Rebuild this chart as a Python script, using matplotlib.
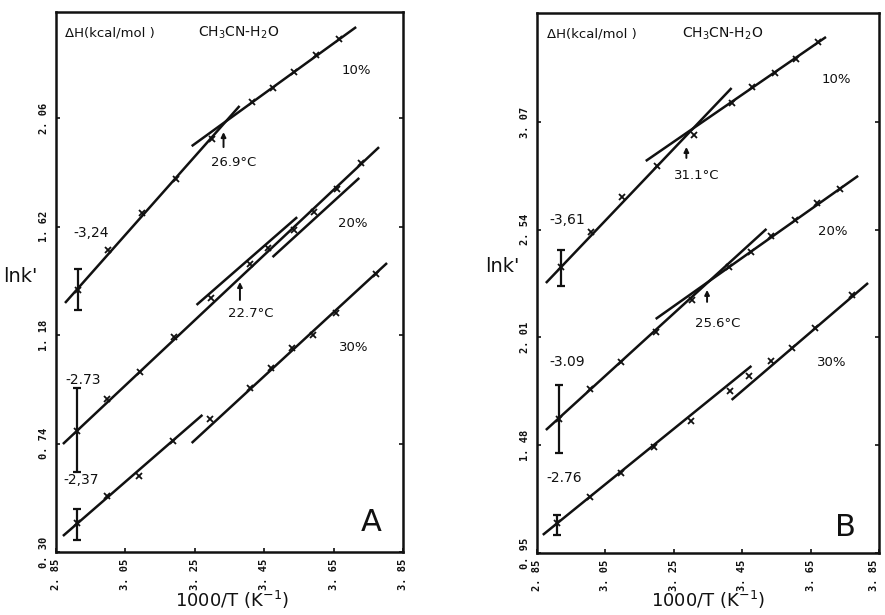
import matplotlib
matplotlib.use("Agg")
import matplotlib.pyplot as plt

# ---- tick values -------------------------------------------------------
x_ticks = [2.85, 3.05, 3.25, 3.45, 3.65, 3.85]
x_tick_labels = ["2. 85", "3. 05", "3. 25", "3. 45", "3. 65", "3. 85"]
a_y_ticks = [0.30, 0.74, 1.18, 1.62, 2.06]
a_y_tick_labels = ["0. 30", "0. 74", "1. 18", "1. 62", "2. 06"]
b_y_ticks = [0.95, 1.48, 2.01, 2.54, 3.07]
b_y_tick_labels = ["0. 95", "1. 48", "2. 01", "2. 54", "3. 07"]

series_names = ["10%", "20%", "30%"]

# ---- panel A: measured ln k' vs 1000/T --------------------------------
a_x_10 = [2.913, 3.000, 3.097, 3.195, 3.301, 3.416, 3.474, 3.537, 3.600, 3.666]
a_y_10 = [1.362, 1.525, 1.675, 1.813, 1.975, 2.125, 2.181, 2.246, 2.315, 2.380]
a_x_20 = [2.910, 2.997, 3.091, 3.189, 3.298, 3.410, 3.462, 3.537, 3.594, 3.660, 3.729]
a_y_20 = [0.791, 0.920, 1.030, 1.172, 1.330, 1.468, 1.533, 1.606, 1.679, 1.772, 1.877]
a_x_30 = [2.910, 2.997, 3.089, 3.186, 3.295, 3.410, 3.471, 3.531, 3.591, 3.657, 3.772]
a_y_30 = [0.418, 0.527, 0.608, 0.750, 0.839, 0.965, 1.046, 1.127, 1.180, 1.269, 1.427]

# fitted straight-line segments (x pairs, y pairs)
a_fit_x_10 = [[2.876, 3.379], [3.241, 3.715]]
a_fit_y_10 = [[1.310, 2.109], [1.946, 2.429]]
a_fit_x_20 = [[2.870, 3.781], [3.255, 3.545], [3.474, 3.724]]
a_fit_y_20 = [[0.738, 1.942], [1.302, 1.658], [1.496, 1.817]]
a_fit_x_30 = [[2.870, 3.272], [3.241, 3.804]]
a_fit_y_30 = [[0.365, 0.856], [0.742, 1.472]]

# error ranges at the highest temperature
a_err_low = [1.281, 0.624, 0.349]
a_err_high = [1.448, 0.965, 0.474]

a_dH = ["-3,24", "-2.73", "-2,37"]
a_transition_C = [26.9, 22.7]

# ---- panel B -----------------------------------------------------------
b_x_10 = [2.920, 3.007, 3.098, 3.200, 3.308, 3.419, 3.480, 3.547, 3.608, 3.672]
b_y_10 = [2.357, 2.529, 2.701, 2.854, 3.006, 3.164, 3.242, 3.311, 3.380, 3.464]
b_x_20 = [2.914, 3.005, 3.095, 3.197, 3.302, 3.410, 3.477, 3.535, 3.605, 3.669, 3.736]
b_y_20 = [1.609, 1.757, 1.890, 2.037, 2.195, 2.357, 2.431, 2.509, 2.588, 2.672, 2.741]
b_x_30 = [2.908, 3.005, 3.095, 3.191, 3.299, 3.413, 3.471, 3.535, 3.596, 3.663, 3.771]
b_y_30 = [1.098, 1.225, 1.344, 1.471, 1.599, 1.747, 1.821, 1.894, 1.958, 2.057, 2.219]

b_fit_x_10 = [[2.876, 3.419], [3.168, 3.695]]
b_fit_y_10 = [[2.278, 3.237], [2.878, 3.488]]
b_fit_x_20 = [[2.876, 3.521], [3.197, 3.789]]
b_fit_y_20 = [[1.555, 2.544], [2.101, 2.805]]
b_fit_x_30 = [[2.867, 3.477], [3.419, 3.818]]
b_fit_y_30 = [[1.039, 1.870], [1.703, 2.278]]

b_err_low = [2.263, 1.442, 1.039]
b_err_high = [2.440, 1.776, 1.137]

b_dH = ["-3,61", "-3.09", "-2.76"]
b_transition_C = [31.1, 25.6]

INK = "#111111"
TXT = "DejaVu Sans"
TICKFONT = dict(family="DejaVu Sans Mono", weight="bold", size=7.5)

fig = plt.figure(figsize=(8.85, 6.15), dpi=100)
fig.patch.set_facecolor("white")


def style_axes(ax, ylim, yticks, ylabels):
    ax.set_xlim(2.85, 3.85)
    ax.set_ylim(*ylim)
    ax.set_xticks(x_ticks)
    ax.set_xticklabels(x_tick_labels, rotation=90, **TICKFONT)
    ax.set_yticks(yticks)
    ax.set_yticklabels(ylabels, rotation=90, va="center", **TICKFONT)
    ax.tick_params(direction="in", length=3, width=1.2, right=True,
                   top=False, colors=INK, pad=5)
    for sp in ax.spines.values():
        sp.set_linewidth(1.8)
        sp.set_color(INK)


def draw_panel(ax, xs, ys, fits_x, fits_y, err_lo, err_hi):
    for x, y, fx, fy, lo, hi in zip(xs, ys, fits_x, fits_y, err_lo, err_hi):
        for sx, sy in zip(fx, fy):
            ax.plot(sx, sy, color=INK, lw=1.8, solid_capstyle="butt")
        ax.plot(x, y, linestyle="none", marker="x", ms=4.5, mew=1.3,
                color=INK)
        yc = y[0]
        ax.errorbar([x[0]], [yc], yerr=[[yc - lo], [hi - yc]], fmt="none",
                    ecolor=INK, elinewidth=1.6, capsize=3, capthick=1.6)


def arrow(ax, t_c, y0, y1, label, ly):
    xv = 1000.0 / (t_c + 273.15)
    ax.annotate("", xy=(xv, y1), xytext=(xv, y0),
                arrowprops=dict(arrowstyle="-|>", lw=1.4, color=INK,
                                mutation_scale=7, shrinkA=0, shrinkB=0))
    ax.text(xv + 0.03, ly, label, ha="center", va="center",
            fontsize=9.5, family=TXT, color=INK)


# ---------------- panel A ----------------
axA = fig.add_axes([56 / 885, 63 / 615, 347 / 885, 540 / 615])
style_axes(axA, (0.30, 2.49), a_y_ticks, a_y_tick_labels)
draw_panel(axA,
           [a_x_10, a_x_20, a_x_30], [a_y_10, a_y_20, a_y_30],
           [a_fit_x_10, a_fit_x_20, a_fit_x_30],
           [a_fit_y_10, a_fit_y_20, a_fit_y_30],
           a_err_low, a_err_high)
arrow(axA, a_transition_C[0], 1.942, 2.003, "26.9°C", 1.881)
arrow(axA, a_transition_C[1], 1.322, 1.395, "22.7°C", 1.269)
for txt, (tx, ty) in zip(a_dH, [(2.899, 1.594), (2.876, 0.997), (2.870, 0.592)]):
    axA.text(tx, ty, txt, ha="left", va="center", fontsize=10,
             family=TXT, color=INK)
for txt, (tx, ty) in zip(series_names, [(3.715, 2.254), (3.706, 1.634), (3.709, 1.131)]):
    axA.text(tx, ty, txt, ha="center", va="center", fontsize=9.5,
             family=TXT, color=INK)
axA.text(0.026, 0.961, "ΔH(kcal/mol )", transform=axA.transAxes,
         ha="left", va="center", fontsize=9.5, family=TXT, color=INK)
axA.text(0.409, 0.961, r"CH$_3$CN-H$_2$O", transform=axA.transAxes,
         ha="left", va="center", fontsize=10, family=TXT, color=INK)
axA.text(0.908, 0.054, "A", transform=axA.transAxes, ha="center",
         va="center", fontsize=22, family=TXT, color=INK)

# ---------------- panel B ----------------
axB = fig.add_axes([537 / 885, 62 / 615, 342 / 885, 540 / 615])
style_axes(axB, (0.95, 3.606), b_y_ticks, b_y_tick_labels)
draw_panel(axB,
           [b_x_10, b_x_20, b_x_30], [b_y_10, b_y_20, b_y_30],
           [b_fit_x_10, b_fit_x_20, b_fit_x_30],
           [b_fit_y_10, b_fit_y_20, b_fit_y_30],
           b_err_low, b_err_high)
arrow(axB, b_transition_C[0], 2.893, 2.947, "31.1°C", 2.809)
arrow(axB, b_transition_C[1], 2.185, 2.244, "25.6°C", 2.081)
for txt, (tx, ty) in zip(b_dH, [(2.885, 2.588), (2.885, 1.890), (2.876, 1.319)]):
    axB.text(tx, ty, txt, ha="left", va="center", fontsize=10,
             family=TXT, color=INK)
for txt, (tx, ty) in zip(series_names, [(3.725, 3.277), (3.716, 2.529), (3.713, 1.885)]):
    axB.text(tx, ty, txt, ha="center", va="center", fontsize=9.5,
             family=TXT, color=INK)
axB.text(0.029, 0.961, "ΔH(kcal/mol )", transform=axB.transAxes,
         ha="left", va="center", fontsize=9.5, family=TXT, color=INK)
axB.text(0.423, 0.961, r"CH$_3$CN-H$_2$O", transform=axB.transAxes,
         ha="left", va="center", fontsize=10, family=TXT, color=INK)
axB.text(0.901, 0.048, "B", transform=axB.transAxes, ha="center",
         va="center", fontsize=22, family=TXT, color=INK)
# keep the last x tick label inside the canvas
axB.get_xticklabels()[-1].set_horizontalalignment("right")

# ---------------- axis titles ----------------
for cx, cy in [(20, 277), (502, 267)]:
    fig.text(cx / 885, 1 - cy / 615, "lnk'", ha="center", va="center",
             fontsize=14, family=TXT, color=INK)
for cx, cy in [(232, 600), (708, 600)]:
    fig.text(cx / 885, 1 - cy / 615, r"1000/T (K$^{-1}$)", ha="center",
             va="center", fontsize=13, family=TXT, color=INK)

fig.savefig("out.png", dpi=100, facecolor="white")
